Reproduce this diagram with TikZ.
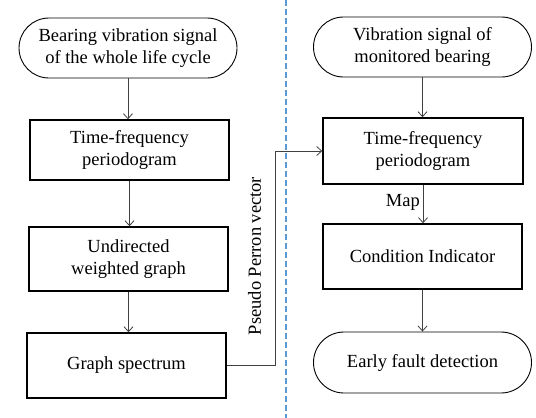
\documentclass[tikz,border=0pt]{standalone}
\usepackage{fontspec}
\setmainfont{Liberation Serif}
\usetikzlibrary{arrows.meta,shapes.misc}
\definecolor{divblue}{RGB}{91,155,213}

\begin{document}
\begin{tikzpicture}[x=1pt,y=-1pt]

\tikzset{box/.style={draw, line width=1.5pt, minimum width=199pt, minimum height=63pt, align=center, inner sep=2pt},
term/.style={draw, rounded rectangle, line width=0.9pt, minimum width=222pt, minimum height=60pt, align=center, inner sep=2pt},
%thin gray connectors with open tips
link/.style={draw=black!75, line width=0.8pt, -{Straight Barb[length=5pt,width=9pt]}},
every node/.style={font=\rmfamily\fontsize{18.5}{22}\selectfont}}

\useasboundingbox (0,0) rectangle (536,418);

% left column
\node[term] (sigall) at (128,48) {Bearing vibration signal\\of the whole life cycle};
\node[box, minimum height=60pt] (tfp) at (129.5,150) {Time-frequency\\periodogram};
\node[box, minimum height=64pt] (graph) at (128.5,259) {Undirected\\weighted graph};
\node[box, minimum height=65pt] (spec) at (126.5,365.5) {Graph spectrum};

% right column
\node[term] (sigmon) at (422.5,47) {Vibration signal of\\monitored bearing};
\node[box, minimum width=200pt, minimum height=66pt] (tfpmon) at (423,151) {Time-frequency\\periodogram};
\node[box, minimum height=65pt] (ci) at (422.5,256.5) {Condition Indicator};
\node[term, minimum height=61pt] (detect) at (422.5,362.5) {Early fault detection};

\foreach \a/\b in {sigall/tfp, tfp/graph, graph/spec, sigmon/tfpmon, tfpmon/ci, ci/detect}
\draw[link] (\a.south) -- (\a.south |- \b.north);

\node[anchor=east, inner sep=2pt] (map) at (422,202) {Map};

% transfer between the two halves
\coordinate (bend) at (275,0);
\draw[link] (spec.east) -- (spec.east -| bend) |- (tfpmon.west);
\node[rotate=90] (ppv) at (254.5,256) {Pseudo Perron vector};

\coordinate (divtop) at (286,0);
\coordinate (divbot) at (286,418);
\draw[divblue, line width=1.2pt, dash pattern=on 6pt off 3pt] (divtop) -- (divbot);

\end{tikzpicture}
\end{document}
